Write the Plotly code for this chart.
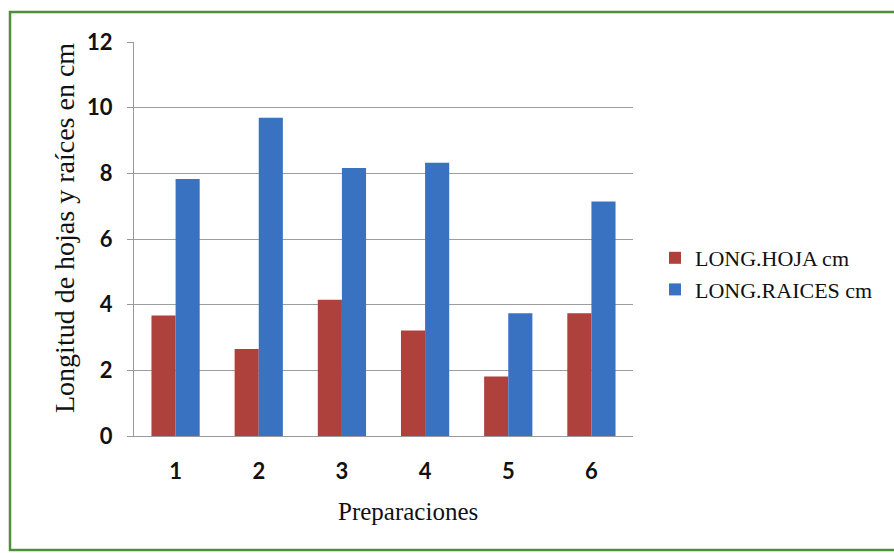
import plotly.graph_objects as go

categories = ["1", "2", "3", "4", "5", "6"]
hoja = [3.67, 2.65, 4.15, 3.21, 1.81, 3.74]
raices = [7.83, 9.69, 8.16, 8.32, 3.74, 7.14]
series_names = ["LONG.HOJA cm", "LONG.RAICES cm"]
y_ticks = [0, 2, 4, 6, 8, 10, 12]
x_title = "Preparaciones"
y_title = "Longitud de hojas y raíces en cm"

W, H = 894, 553
L, R, T, B = 134, 261, 42, 117
pw, ph = W - L - R, H - T - B


def px_x(p):
    return (p - L) / pw


def px_y(p):
    return (H - B - p) / ph


fig = go.Figure()
fig.add_trace(go.Bar(x=categories, y=hoja, name=series_names[0], marker_color="#AE413C",
                     marker_line_width=0))
fig.add_trace(go.Bar(x=categories, y=raices, name=series_names[1], marker_color="#3A72C2",
                     marker_line_width=0))

fig.update_layout(
    width=W, height=H,
    margin=dict(l=L, r=R, t=T, b=B),
    paper_bgcolor="white", plot_bgcolor="white",
    barmode="group", bargap=0.42, bargroupgap=0,
    showlegend=True,
    legend=dict(x=px_x(655), y=px_y(274), xanchor="left", yanchor="middle",
                font=dict(family="Liberation Serif", size=22, color="#111"),
                itemwidth=30, tracegroupgap=0, bgcolor="rgba(0,0,0,0)"),
    xaxis=dict(
        showline=True, linecolor="#9a9a9a", linewidth=1.3,
        ticks="", ticklabelstandoff=15,
        tickfont=dict(family="Lato", size=22, color="#111", weight="bold"),
        showgrid=False,
    ),
    yaxis=dict(
        range=[0, 12], tickvals=y_ticks, ticktext=[str(v) for v in y_ticks],
        showline=True, linecolor="#9a9a9a", linewidth=1.3,
        ticks="outside", ticklen=6, tickcolor="#9a9a9a", ticklabelstandoff=10,
        showgrid=True, gridcolor="#9d9d9d", gridwidth=1.2,
        zeroline=False,
        tickfont=dict(family="Lato", size=22, color="#111", weight="bold"),
    ),
    annotations=[
        dict(text=x_title, xref="paper", yref="paper",
             x=px_x(408), y=px_y(511), xanchor="center", yanchor="middle",
             showarrow=False,
             font=dict(family="Liberation Serif", size=25, color="#111")),
        dict(text=y_title, xref="paper", yref="paper", textangle=-90,
             x=px_x(64), y=px_y(228), xanchor="center", yanchor="middle",
             showarrow=False,
             font=dict(family="Liberation Serif", size=28, color="#111")),
    ],
    shapes=[dict(type="rect", xref="paper", yref="paper",
                 x0=px_x(10), x1=px_x(900), y0=px_y(550), y1=px_y(12),
                 line=dict(color="#4F8E3A", width=2.5), fillcolor="rgba(0,0,0,0)", layer="below")],
)

fig.write_html("out.html")
